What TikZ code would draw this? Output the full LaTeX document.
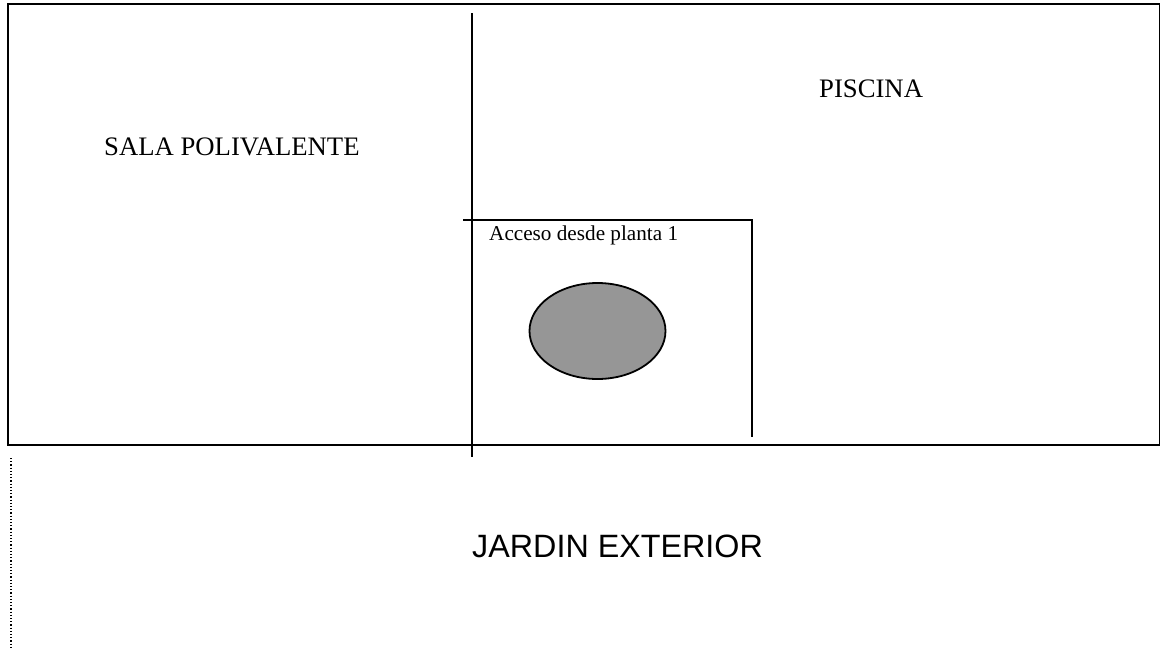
\documentclass[tikz,border=0pt]{standalone}
\usepackage{fontspec}
\setmainfont{Liberation Serif}
\newfontfamily\jardinfont{Liberation Sans}
\definecolor{ovalgray}{HTML}{969696}
\usetikzlibrary{shapes.geometric}
\begin{document}
\begin{tikzpicture}[x=1pt, y=-1pt, wall/.style={line width = 1.8pt, draw = black, line cap = butt},
	room/.style={inner sep = 0pt, anchor = base west, font = \fontsize{26.7}{30}\selectfont},
	oval/.style={ellipse, draw = black, line width = 1.8pt, fill = ovalgray, inner sep = 0pt, minimum width = 136pt, minimum height = 96pt}]
	\useasboundingbox (0,0) rectangle (1160,649);
	\draw [line width = 2.4pt] (8,4) rectangle (1160,445);
	\coordinate (wallTop) at (472,13);
	\coordinate (wallBottom) at (472,457);
	\coordinate (stairLeft) at (463,220);
	\coordinate (stairCorner) at (752,220);
	\coordinate (stairEnd) at (752,437);
	\coordinate (gardenTop) at (11,458);
	\coordinate (gardenBottom) at (11,649);
	\draw [wall] (wallTop) -- (wallBottom);
	\draw [wall] (stairLeft) -- (stairCorner) -- (stairEnd);
	\draw [line width = 1.2pt, dotted] (gardenTop) -- (gardenBottom);
	\node (pool) [oval] at (597.5,331) {};
	\node (sala) [room] at (104,155.5) {SALA POLIVALENTE};
	\node (piscina) [room] at (819,97.5) {PISCINA};
	\node (acceso) [room, font = \fontsize{21.2}{24}\selectfont] at (489,240) {Acceso desde planta 1};
	\node (jardin) [room, font = \jardinfont\fontsize{32.3}{36}\selectfont] at (472,557) {JARDIN EXTERIOR};
\end{tikzpicture}
\end{document}
